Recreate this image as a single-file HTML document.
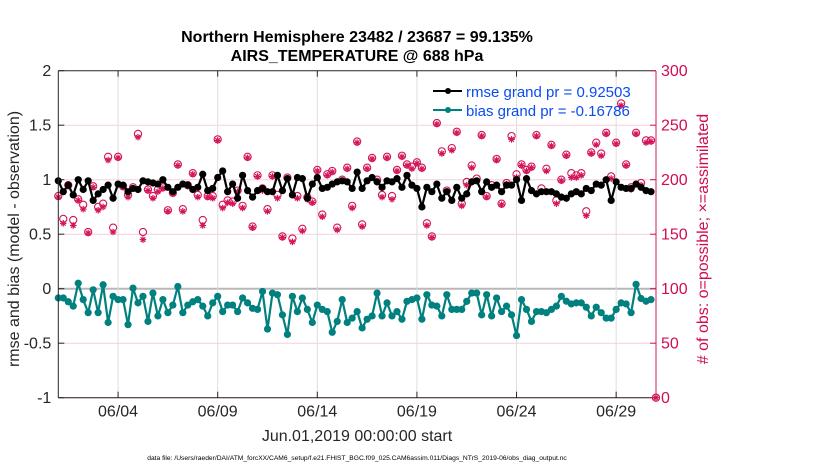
<!DOCTYPE html>
<html><head><meta charset="utf-8">
<style>
html,body{margin:0;padding:0;background:#fff;}
svg{display:block;font-family:"Liberation Sans",Arial,sans-serif;}
</style></head>
<body>
<svg id="chart" width="830" height="470" viewBox="0 0 830 470" xmlns="http://www.w3.org/2000/svg">
<rect width="830" height="470" fill="#fff"/>
<text x="357" y="42" text-anchor="middle" font-size="16" font-weight="bold">Northern Hemisphere 23482 / 23687 = 99.135%</text>
<text x="357" y="61" text-anchor="middle" font-size="16" font-weight="bold">AIRS_TEMPERATURE @ 688 hPa</text>
<g id="grid"></g>
<g id="marks"></g>
<g id="axes"></g>
<text transform="translate(19,239) rotate(-90)" text-anchor="middle" font-size="16" fill="#262626">rmse and bias (model - observation)</text>
<text transform="translate(708,239) rotate(-90)" text-anchor="middle" font-size="16" fill="#d10b55"># of obs: o=possible; ×=assimilated</text>
<text x="357" y="441" text-anchor="middle" font-size="16" fill="#262626">Jun.01,2019 00:00:00 start</text>
<text x="357" y="460" text-anchor="middle" font-size="6.7" fill="#000">data file: /Users/raeder/DAI/ATM_forcXX/CAM6_setup/f.e21.FHIST_BGC.f09_025.CAM6assim.011/Diags_NTrS_2019-06/obs_diag_output.nc</text>
<g>
  <line x1="433" y1="91" x2="462" y2="91" stroke="#000" stroke-width="2"/>
  <circle cx="448" cy="91" r="3" fill="#000"/>
  <text x="466" y="97" font-size="15" fill="#0a4cf0">rmse grand pr = 0.92503</text>
  <line x1="433" y1="110" x2="462" y2="110" stroke="#00807f" stroke-width="2"/>
  <circle cx="448" cy="110" r="3" fill="#00807f"/>
  <text x="466" y="116" font-size="15" fill="#0a4cf0">bias grand pr = -0.16786</text>
</g>
</svg>
<script>
const rmse = [0.99,0.89,0.95,0.86,1.0,0.91,0.99,0.81,0.87,0.91,0.95,0.83,0.96,0.95,0.89,0.92,0.91,0.99,0.98,0.97,0.96,1.0,0.93,0.89,0.93,0.96,0.95,0.91,0.93,1.05,
0.90,0.92,1.02,1.08,0.89,0.96,0.83,1.04,0.90,0.84,0.90,0.92,0.89,0.89,1.04,0.90,1.01,0.86,1.02,1.01,0.83,0.96,1.02,0.92,0.93,0.96,0.98,0.99,0.98,0.92,
1.07,0.92,0.99,1.02,0.98,0.93,0.99,0.98,1.01,0.93,1.04,0.95,0.92,0.75,0.93,0.89,0.96,0.83,0.89,0.81,0.93,0.83,0.87,0.98,0.99,0.89,0.98,0.93,0.95,0.89,
0.95,0.95,1.0,0.81,1.01,0.90,0.87,0.89,0.89,0.89,0.87,0.84,0.83,0.87,0.89,0.87,0.92,0.90,0.96,0.95,1.0,0.81,0.98,0.93,0.92,0.92,0.96,0.93,0.90,0.89];
const bias = [-0.085,-0.085,-0.12,-0.16,0.05,-0.10,-0.22,-0.01,-0.22,0.036,-0.31,-0.07,-0.10,-0.10,-0.33,0.005,-0.13,-0.07,-0.30,-0.04,-0.25,-0.10,-0.22,-0.15,0.02,-0.22,-0.15,-0.12,-0.10,-0.16,
-0.25,-0.13,-0.07,-0.21,-0.15,-0.15,-0.21,-0.085,-0.13,-0.18,-0.19,-0.025,-0.37,-0.04,-0.055,-0.24,-0.42,-0.07,-0.21,-0.085,-0.19,-0.31,-0.15,-0.19,-0.21,-0.40,-0.30,-0.10,-0.31,-0.27,
-0.21,-0.36,-0.28,-0.25,-0.04,-0.25,-0.13,-0.25,-0.21,-0.28,-0.116,-0.10,-0.085,-0.28,-0.055,-0.15,-0.16,-0.25,-0.055,-0.19,-0.19,-0.19,-0.116,-0.04,-0.04,-0.24,-0.055,-0.25,-0.085,-0.21,
-0.16,-0.24,-0.43,-0.10,-0.19,-0.30,-0.21,-0.21,-0.22,-0.19,-0.16,-0.07,-0.115,-0.14,-0.13,-0.13,-0.17,-0.25,-0.17,-0.22,-0.27,-0.27,-0.19,-0.13,-0.14,-0.22,0.04,-0.09,-0.115,-0.10];
const obsAssim = [184,160,194,158,181,173,151,193,172,175,218,152,220,193,184,192,239,145,190,183,189,192,171,187,213,171,194,205,184,158,
184,183,236,174,179,178,189,174,220,156,203,190,171,203,183,147,201,143,183,153,182,179,208,166,204,207,154,199,210,174,
234,157,210,219,199,184,220,182,208,221,213,210,215,210,158,147,251,224,189,227,243,176,195,211,199,240,184,193,218,177,
196,237,202,213,208,211,240,189,208,231,178,199,222,202,202,204,167,224,232,222,242,201,233,268,213,191,242,195,234,235,0];
const obsPossible = [185,164,195,163,182,177,152,194,175,178,221,156,221,194,186,193,242,152,191,185,191,193,172,188,214,173,195,206,186,163,
185,185,237,177,181,180,190,176,221,157,204,192,173,204,186,148,202,146,185,155,184,180,209,168,205,208,156,200,211,176,
235,159,211,220,200,186,221,185,209,222,214,212,216,211,160,148,252,226,190,229,244,178,198,213,201,241,185,195,219,178,
197,240,205,214,209,212,241,192,210,232,181,200,223,206,204,206,171,225,234,224,243,203,234,270,214,193,243,197,236,236,0];
const leftTicks = [2,1.5,1,0.5,0,-0.5,-1];
const leftTickLabels = ["2","1.5","1","0.5","0","-0.5","-1"];
const rightTicks = [300,250,200,150,100,50,0];
const dayTicks = [3,8,13,18,23,28];
const dayTickLabels = ["06/04","06/09","06/14","06/19","06/24","06/29"];
const stepDays = 0.25;

const NS="http://www.w3.org/2000/svg";
const X0=58.3,X1=656,Y0=70.7,Y1=397.7;
const xS=d=>X0+(d/30)*(X1-X0);
const yL=v=>Y1-(v+1)/3*(Y1-Y0);
const yR=c=>Y1-c/300*(Y1-Y0);
function mk(tag,attrs,parent){const e=document.createElementNS(NS,tag);for(const k in attrs)e.setAttribute(k,attrs[k]);parent.appendChild(e);return e;}
const grid=document.getElementById('grid'),marks=document.getElementById('marks'),axes=document.getElementById('axes');
const pink="#d4145a";

leftTicks.forEach(v=>{
  if(v===2||v===-1)return;
  const g=mk('line',{x1:X0,x2:X1,y1:yL(v),y2:yL(v),stroke:v===0?'#b8b8b8':'#f6cfdc','stroke-width':v===0?2:1},grid);
  
  
});
dayTicks.forEach(d=>{
  const g=mk('line',{x1:xS(d),x2:xS(d),y1:Y0,y2:Y1,stroke:'#dedede','stroke-width':1},grid);
  
  
});

obsAssim.forEach((c,i)=>{
  const x=xS(i*stepDays), y=yR(c), r=3.3;
  const g=mk('g',{stroke:pink,'stroke-width':1.2,fill:'none'},marks);
  
  
  mk('line',{x1:x-r,x2:x+r,y1:y,y2:y},g);
  mk('line',{x1:x,x2:x,y1:y-r,y2:y+r},g);
  mk('line',{x1:x-r*0.7,x2:x+r*0.7,y1:y-r*0.7,y2:y+r*0.7},g);
  mk('line',{x1:x-r*0.7,x2:x+r*0.7,y1:y+r*0.7,y2:y-r*0.7},g);
});
obsPossible.forEach((c,i)=>{
  const e=mk('circle',{cx:xS(i*stepDays),cy:yR(c),r:3.6,fill:'none',stroke:pink,'stroke-width':1.1},marks);
  
  
});

function series(vals,color,name){
  const pts=vals.map((v,i)=>xS(i*stepDays).toFixed(1)+','+yL(v).toFixed(1)).join(' ');
  const pl=mk('polyline',{points:pts,fill:'none',stroke:color,'stroke-width':2.2,'stroke-linejoin':'round'},marks);
  
  
  vals.forEach((v,i)=>{
    const c=mk('circle',{cx:xS(i*stepDays),cy:yL(v),r:3.6,fill:color},marks);
    
    
  });
}
series(rmse,'#000','rmse');
series(bias,'#00807f','bias');

mk('line',{x1:X0,x2:X1,y1:Y0,y2:Y0,stroke:'#262626','stroke-width':1},axes);
mk('line',{x1:X0,x2:X1,y1:Y1,y2:Y1,stroke:'#2a1015','stroke-width':1},axes);
mk('line',{x1:X0,x2:X0,y1:Y0,y2:Y1,stroke:'#262626','stroke-width':1},axes);
mk('line',{x1:X1,x2:X1,y1:Y0,y2:Y1,stroke:pink,'stroke-width':1},axes);
leftTicks.forEach((v,i)=>{
  mk('line',{x1:X0,x2:X0+6,y1:yL(v),y2:yL(v),stroke:'#262626'},axes);
  const t=mk('text',{x:X0-7,y:yL(v)+5.5,'text-anchor':'end','font-size':16,fill:'#262626'},axes);
  t.textContent=leftTickLabels[i];
  
  
});
rightTicks.forEach(c=>{
  mk('line',{x1:X1-6,x2:X1,y1:yR(c),y2:yR(c),stroke:pink},axes);
  const t=mk('text',{x:X1+5,y:yR(c)+5.5,'font-size':16,fill:'#d10b55'},axes);
  t.textContent=String(c);
  
  
});
dayTicks.forEach((d,i)=>{
  mk('line',{x1:xS(d),x2:xS(d),y1:Y1,y2:Y1-6,stroke:'#262626'},axes);
  mk('line',{x1:xS(d),x2:xS(d),y1:Y0,y2:Y0+6,stroke:'#262626'},axes);
  const t=mk('text',{x:xS(d),y:Y1+19,'text-anchor':'middle','font-size':16,fill:'#262626'},axes);
  t.textContent=dayTickLabels[i];
  
  
});
</script>
</body></html>
